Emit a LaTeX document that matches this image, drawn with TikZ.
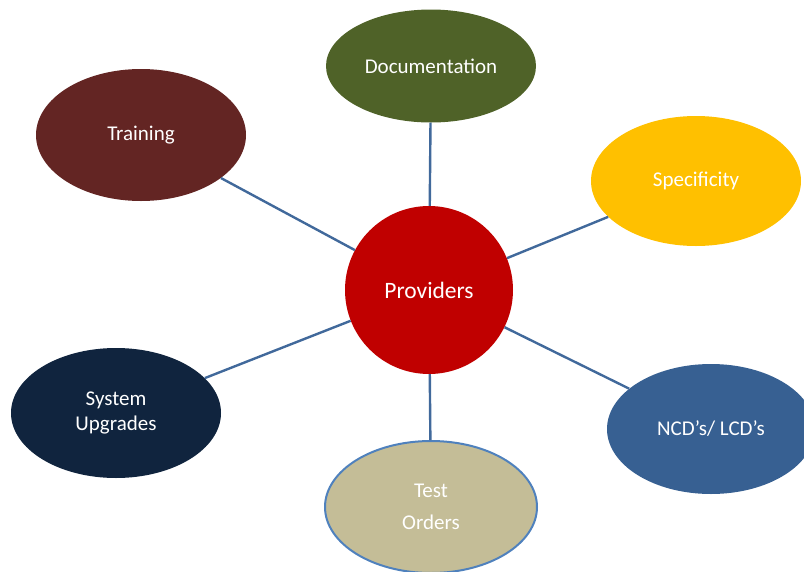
\documentclass[tikz,border=0pt]{standalone}
\usepackage{fontspec}
\setmainfont{Carlito}
\usetikzlibrary{shapes.geometric}
\definecolor{trainc}{HTML}{632523}
\definecolor{docc}{HTML}{4F6228}
\definecolor{specc}{HTML}{FFC000}
\definecolor{ncdc}{HTML}{376092}
\definecolor{sysc}{HTML}{10243E}
\definecolor{testc}{HTML}{C4BD97}
\definecolor{testb}{HTML}{4F81BD}
\definecolor{provc}{HTML}{C00000}
\definecolor{linec}{HTML}{41699B}
\begin{document}
\begin{tikzpicture}[x=1pt,y=-1pt,
  bub/.style={ellipse, minimum width=210pt, minimum height=130pt, inner sep=0pt,
    text=white, align=center, font=\fontsize{21}{25}\selectfont},
  link/.style={draw=linec, line width=2.4pt}]
\useasboundingbox (0,0) rectangle (804,571);
\clip (0,0) rectangle (804,571);
\node[circle, fill=provc, minimum size=168pt, inner sep=0pt, text=white,
  font=\fontsize{23.5}{28}\selectfont] (prov) at (429,290) {Providers};
\node[bub, fill=docc, minimum height=113pt] (doc) at (431,66) {Documentation};
\node[bub, fill=trainc, minimum height=132pt] (train) at (141,135) {Training};
\node[bub, fill=specc, minimum height=130pt] (spec) at (696,181) {Specificity};
\node[bub, fill=ncdc, minimum width=208pt, minimum height=130pt] (ncd) at (711,429) {NCD’s/ LCD’s};
\node[bub, fill=sysc, minimum height=130pt] (sys) at (116,413) {System\\Upgrades};
\node[bub, fill=testc, draw=testb, line width=2pt, minimum width=212pt, minimum height=132pt,
  font=\fontsize{21}{32}\selectfont] (test) at (431,507) {Test\\Orders};
\draw[link] (prov) -- (doc);
\draw[link] (prov) -- (train);
\draw[link] (prov) -- (spec);
\draw[link] (prov) -- (ncd);
\draw[link] (prov) -- (sys);
\draw[link] (prov) -- (test);
\end{tikzpicture}
\end{document}
